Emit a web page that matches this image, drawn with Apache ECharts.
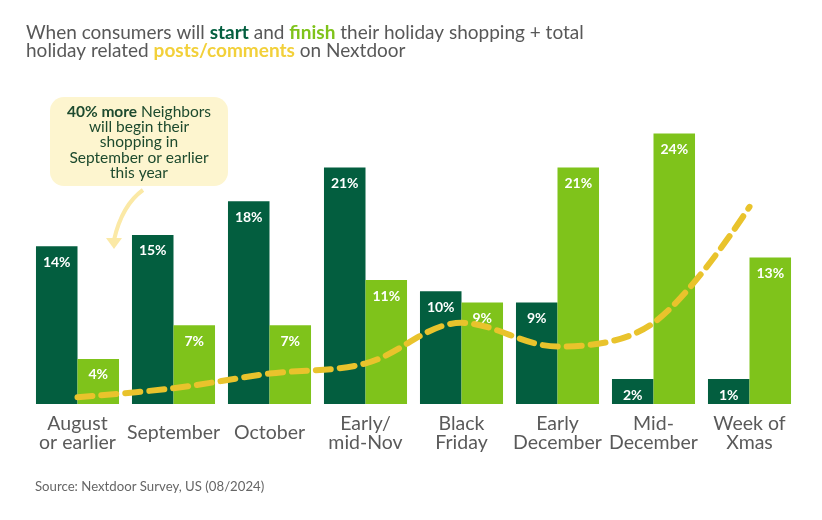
<!DOCTYPE html>
<html>
<head>
<meta charset="utf-8">
<script src="https://cdn.jsdelivr.net/npm/echarts@6/dist/echarts.min.js"></script>
<style>
  html, body { margin: 0; padding: 0; background: #fff; }
  #chart { width: 822px; height: 520px; }
</style>
</head>
<body>
<div id="chart"></div>
<script>
const categories = [
  "August\nor earlier", "September", "October", "Early/\nmid-Nov",
  "Black\nFriday", "Early\nDecember", "Mid-\nDecember", "Week of\nXmas"
];
const startValues = [14, 15, 18, 21, 10, 9, 2, 1];
const finishValues = [4, 7, 7, 11, 9, 21, 24, 13];
// relative volume of holiday posts/comments (no scale shown)
const postsValues = [0.6, 1.4, 2.7, 3.6, 7.2, 5.1, 7.2, 17.5];

const DARK = "#035e3f";
const LIGHT = "#7fc31b";
const GOLD = "#e9c32c";
const FONT = "Lato";

const chart = echarts.init(document.getElementById("chart"));

const barLabel = {
  show: true,
  position: "insideTop",
  distance: 9,
  color: "#fff",
  fontFamily: FONT,
  fontWeight: "bold",
  fontSize: 14,
  formatter: "{c}%"
};

const option = {
  animation: false,
  title: {
    left: 26,
    top: 24,
    padding: 0,
    text: "When consumers will {s|start} and {f|finish} their holiday shopping + total\nholiday related {p|posts/comments} on Nextdoor",
    textStyle: {
      fontFamily: FONT,
      fontSize: 19,
      fontWeight: "normal",
      color: "#585858",
      lineHeight: 18,
      rich: {
        s: { fontFamily: FONT, fontSize: 19, fontWeight: "bold", color: DARK, lineHeight: 18 },
        f: { fontFamily: FONT, fontSize: 19, fontWeight: "bold", color: LIGHT, lineHeight: 18 },
        p: { fontFamily: FONT, fontSize: 19, fontWeight: "bold", color: "#f2d03a", lineHeight: 18 }
      }
    }
  },
  grid: { left: 29.5, right: 24.5, top: 88.5, bottom: 116 },
  xAxis: {
    type: "category",
    data: categories,
    axisLine: { show: false },
    axisTick: { show: false },
    axisLabel: {
      interval: 0,
      margin: 29,
      color: "#5a5a5a",
      fontFamily: FONT,
      fontSize: 19.5,
      lineHeight: 19,
      verticalAlign: "middle"
    }
  },
  yAxis: {
    type: "value",
    min: 0,
    max: 28,
    show: false
  },
  series: [
    {
      name: "start",
      type: "bar",
      data: startValues,
      barGap: "0%",
      barCategoryGap: "13.5%",
      barMinHeight: 25,
      itemStyle: { color: DARK },
      label: barLabel
    },
    {
      name: "finish",
      type: "bar",
      data: finishValues,
      itemStyle: { color: LIGHT },
      label: barLabel
    },
    {
      name: "posts/comments",
      type: "line",
      data: postsValues,
      smooth: 0.35,
      symbol: "none",
      z: 5,
      lineStyle: { color: GOLD, width: 6, type: [15, 9], cap: "round" }
    }
  ],
  graphic: [
    {
      type: "rect",
      shape: { x: 50, y: 97, width: 178, height: 89, r: 14 },
      style: { fill: "#fdf5cf" }
    },
    {
      type: "text",
      x: 139,
      y: 104,
      style: {
        text: "{b|40% more} Neighbors\nwill begin their\nshopping in\nSeptember or earlier\nthis year",
        align: "center",
        fill: "#1d4a2e",
        font: "15.5px Lato",
        lineHeight: 15.3,
        rich: {
          b: { fontFamily: FONT, fontSize: 15.5, fontWeight: "bold", fill: "#1d4a2e", lineHeight: 15.3 }
        }
      }
    },
    {
      type: "bezierCurve",
      shape: { x1: 143, y1: 190, cpx1: 122, cpy1: 205, x2: 114, y2: 240 },
      style: { stroke: "#fbe9a6", lineWidth: 4, fill: null }
    },
    {
      type: "polygon",
      shape: { points: [[106, 238], [122, 238], [114, 249]] },
      style: { fill: "#fbe9a6" }
    },
    {
      type: "text",
      x: 35,
      y: 480,
      style: {
        text: "Source: Nextdoor Survey, US (08/2024)",
        fill: "#666",
        font: "13.2px Lato"
      }
    }
  ]
};

chart.setOption(option);
</script>
</body>
</html>
